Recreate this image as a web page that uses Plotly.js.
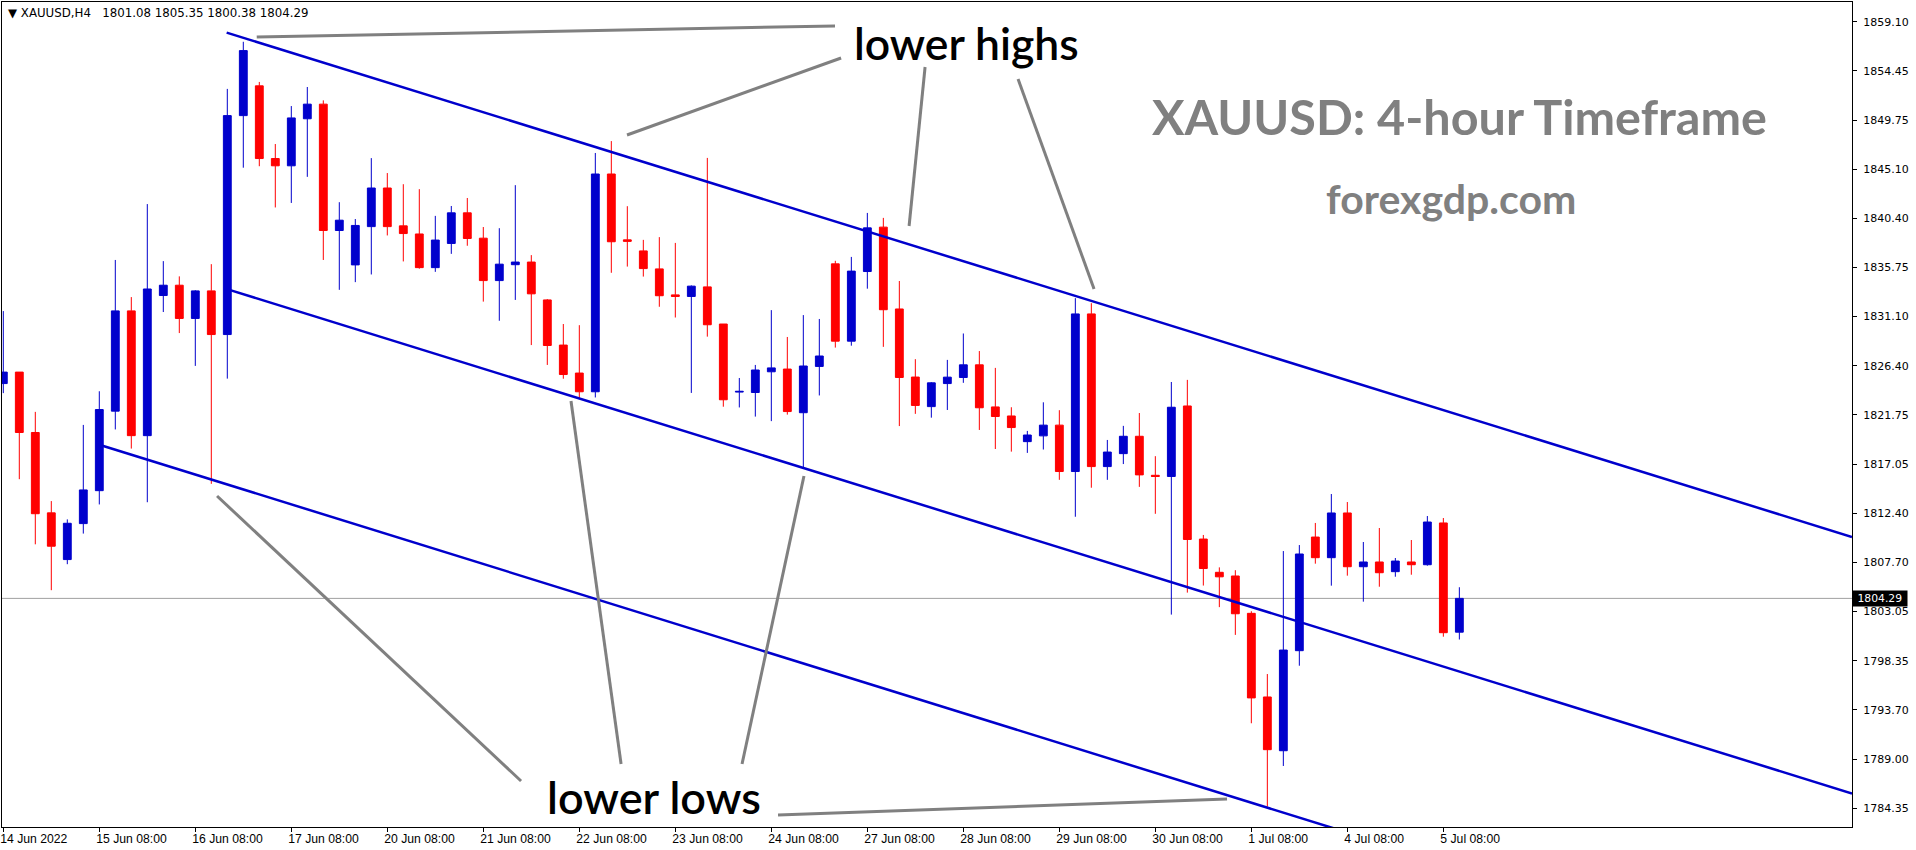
<!DOCTYPE html>
<html>
<head>
<meta charset="utf-8">
<script src="https://cdn.plot.ly/plotly-3.0.1.min.js"></script>
<style>html,body{margin:0;padding:0;background:#fff;}#chart{width:1916px;height:850px;}</style>
</head>
<body>
<div id="chart"></div>
<script>
// ---- Data (XAUUSD H4 candles) ----
const symbol = "XAUUSD,H4";
const openP = [1824.71,1825.80,1820.06,1812.42,1807.98,1811.40,1814.53,1822.09,1831.62,1819.76,
1833.08,1834.06,1830.90,1833.52,1829.37,1850.18,1853.01,1846.10,1845.41,1849.88,
1851.27,1839.26,1835.99,1839.63,1843.30,1839.70,1838.93,1835.73,1838.03,1840.94,
1838.53,1834.50,1836.01,1836.26,1832.66,1828.37,1825.71,1823.93,1844.63,1838.37,
1837.32,1835.61,1833.14,1832.99,1833.90,1830.37,1823.90,1823.86,1825.83,1826.09,
1821.94,1826.34,1836.09,1828.74,1835.36,1839.58,1831.80,1825.33,1822.52,1824.71,
1825.29,1826.49,1822.49,1821.63,1819.19,1819.74,1820.76,1816.35,1831.33,1816.82,
1818.05,1819.70,1815.99,1815.88,1822.58,1809.93,1806.77,1806.42,1802.87,1794.92,
1789.81,1799.32,1810.12,1808.16,1812.41,1807.30,1807.75,1806.83,1807.75,1807.49,
1811.46,1801.08];
const highP = [1831.60,1825.80,1822.02,1813.54,1811.80,1820.78,1823.98,1836.46,1832.93,1841.77,
1836.35,1834.90,1833.59,1836.06,1852.72,1857.20,1853.38,1847.48,1851.09,1852.90,
1851.63,1841.95,1840.35,1846.14,1844.72,1843.66,1843.19,1840.65,1841.59,1842.35,
1839.59,1839.48,1843.57,1836.92,1832.74,1830.37,1830.26,1846.63,1847.76,1841.57,
1838.37,1838.63,1838.08,1834.04,1846.16,1830.37,1825.24,1826.48,1831.69,1829.14,
1831.22,1830.85,1836.38,1836.75,1840.93,1840.46,1834.46,1827.03,1824.85,1826.96,
1829.47,1827.80,1826.20,1822.46,1820.21,1822.93,1822.18,1832.83,1832.35,1819.35,
1820.69,1821.91,1817.81,1824.86,1825.06,1810.32,1807.24,1806.97,1803.07,1797.10,
1808.79,1809.36,1811.46,1814.21,1813.45,1809.65,1810.98,1808.13,1809.84,1812.12,
1811.93,1805.35];
const lowP = [1823.80,1815.62,1809.43,1805.07,1807.54,1810.45,1813.22,1820.35,1818.53,1813.43,
1831.51,1829.51,1826.39,1815.18,1825.18,1845.23,1845.37,1841.45,1841.88,1844.36,
1836.46,1833.62,1834.35,1835.08,1838.79,1836.32,1835.63,1835.33,1837.04,1837.81,
1832.50,1830.68,1832.66,1828.37,1826.48,1825.17,1823.28,1823.39,1835.24,1835.83,
1834.88,1832.01,1830.99,1823.82,1829.17,1822.51,1822.44,1821.57,1821.14,1821.76,
1816.67,1823.58,1828.13,1828.31,1833.73,1828.20,1820.67,1821.83,1821.47,1822.20,
1824.78,1820.30,1818.49,1818.24,1818.12,1818.44,1815.56,1812.05,1814.81,1815.56,
1817.06,1814.89,1812.33,1802.75,1804.84,1805.51,1803.46,1800.82,1792.42,1784.49,
1788.36,1797.89,1807.59,1805.50,1806.45,1803.98,1805.40,1806.35,1806.54,1807.40,
1800.65,1800.38];
const closeP = [1825.80,1820.06,1812.34,1809.25,1811.43,1814.60,1822.24,1831.62,1819.76,1833.70,
1834.06,1830.90,1833.52,1829.37,1850.18,1856.36,1846.10,1845.41,1849.96,1851.27,
1839.26,1840.24,1839.74,1843.30,1839.63,1838.97,1835.73,1838.35,1840.94,1838.50,
1834.50,1836.06,1836.26,1833.24,1828.33,1825.57,1823.93,1844.63,1838.19,1838.23,
1835.64,1833.06,1832.99,1833.97,1830.30,1823.17,1823.97,1826.00,1826.20,1822.05,
1826.38,1827.33,1828.74,1835.40,1839.51,1831.73,1825.29,1822.63,1824.78,1825.32,
1826.49,1822.41,1821.58,1820.53,1819.82,1820.76,1816.35,1831.33,1816.82,1818.20,
1819.70,1816.03,1815.88,1822.46,1809.89,1807.13,1806.34,1802.83,1794.83,1789.91,
1799.38,1808.51,1808.16,1812.41,1807.30,1807.75,1806.73,1807.84,1807.49,1811.55,
1801.03,1804.29];

// time-axis labels (every 6th H4 bar)
const timeTickBars = [0,6,12,18,24,30,36,42,48,54,60,66,72,78,84,90];
const timeTickLabels = ["14 Jun 2022","15 Jun 08:00","16 Jun 08:00","17 Jun 08:00","20 Jun 08:00",
"21 Jun 08:00","22 Jun 08:00","23 Jun 08:00","24 Jun 08:00","27 Jun 08:00","28 Jun 08:00",
"29 Jun 08:00","30 Jun 08:00","1 Jul 08:00","4 Jul 08:00","5 Jul 08:00"];

// price-axis labels
const priceTicks = [1859.10,1854.45,1849.75,1845.10,1840.40,1835.75,1831.10,1826.40,1821.75,
1817.05,1812.40,1807.70,1803.05,1798.35,1793.70,1789.00,1784.35];

// descending channel lines: [bar, price] at start and at the right edge
const upperLineBars = [13.96, 115.54];
const upperLinePrices = [1858.07, 1810.13];
const middleLineBars = [13.98, 115.54];
const middleLinePrices = [1833.69, 1785.75];
const lowerLineBars = [6.0, 115.54];
const lowerLinePrices = [1818.90, 1767.13];

// ---- Build ----
const bars = openP.map((_, i) => i);
const lastIdx = closeP.length - 1;
const lastClose = closeP[lastIdx];
const BLUE = "#0000CC", RED = "#FF0000", GRAY = "#808080";

const candles = {
  type: "candlestick",
  x: bars, open: openP, high: highP, low: lowP, close: closeP,
  increasing: {line: {color: BLUE, width: 1}, fillcolor: BLUE},
  decreasing: {line: {color: RED, width: 1}, fillcolor: RED},
  whiskerwidth: 0,
  hoverinfo: "skip",
  showlegend: false
};
function chLine(xs, ys) {
  return {type: "scatter", mode: "lines", x: xs, y: ys,
    line: {color: BLUE, width: 2.5}, hoverinfo: "skip", showlegend: false};
}
const traces = [
  chLine(upperLineBars, upperLinePrices),
  chLine(middleLineBars, middleLinePrices),
  chLine(lowerLineBars, lowerLinePrices),
  candles
];

function seg(x0, y0, x1, y1) {
  return {type: "line", xref: "x", yref: "y", x0: x0, y0: y0, x1: x1, y1: y1,
    line: {color: GRAY, width: 3}, layer: "above"};
}
const shapes = [
  {type: "line", xref: "paper", x0: 0, x1: 1, yref: "y", y0: lastClose, y1: lastClose,
   line: {color: "#A0A0A0", width: 1}, layer: "below"},
  // "lower highs" pointers
  seg(15.84, 1857.66, 51.98, 1858.70),
  seg(38.98, 1848.34, 52.36, 1855.66),
  seg(57.61, 1854.80, 56.61, 1839.69),
  seg(63.42, 1853.66, 68.17, 1833.70),
  // "lower lows" pointers
  seg(13.36, 1814.02, 32.36, 1786.93),
  seg(35.48, 1823.05, 38.61, 1788.55),
  seg(50.04, 1815.92, 46.17, 1788.55),
  seg(48.42, 1783.70, 76.48, 1785.22)
];

const fmt = v => v.toFixed(2);
const header = "\u25BC " + symbol + "\u00A0\u00A0\u00A0" + [openP[lastIdx], highP[lastIdx], lowP[lastIdx], closeP[lastIdx]].map(fmt).join(" ");

const annotations = [
  {xref: "paper", yref: "paper", x: 0, y: 1, xanchor: "left", yanchor: "top", xshift: 4, yshift: -2,
   text: header, showarrow: false, font: {family: "DejaVu Sans", size: 11.8, color: "#000"}},
  {xref: "paper", yref: "y", x: 1, y: lastClose, xanchor: "left", yanchor: "middle", xshift: 0,
   text: "\u00A0" + fmt(lastClose) + "\u00A0", showarrow: false, bgcolor: "#000", borderpad: 1,
   font: {family: "DejaVu Sans", size: 10.8, color: "#fff"}},
  {xref: "x", yref: "y", x: 60.17, y: 1857.09, text: "lower highs", showarrow: false,
   xanchor: "center", yanchor: "middle", font: {family: "Lato", size: 44.5, weight: 600, color: "#000"}},
  {xref: "x", yref: "y", x: 40.67, y: 1785.41, text: "lower lows", showarrow: false,
   xanchor: "center", yanchor: "middle", font: {family: "Lato", size: 45, weight: 600, color: "#000"}},
  {xref: "x", yref: "y", x: 91.04, y: 1850.15, text: "<b>XAUUSD: 4-hour Timeframe</b>", showarrow: false,
   xanchor: "center", yanchor: "middle", font: {family: "Lato", size: 48.5, color: GRAY}},
  {xref: "x", yref: "y", x: 90.48, y: 1842.26, text: "<b>forexgdp.com</b>", showarrow: false,
   xanchor: "center", yanchor: "middle", font: {family: "Lato", size: 41, color: GRAY}}
];

const layout = {
  width: 1916, height: 850,
  margin: {l: 2, r: 64, t: 2, b: 23},
  paper_bgcolor: "#fff", plot_bgcolor: "#fff",
  showlegend: false,
  dragmode: false,
  xaxis: {
    type: "linear", range: [-0.081, 115.54], autorange: false,
    showgrid: false, zeroline: false,
    showline: true, linecolor: "#000", linewidth: 1, mirror: true,
    ticks: "outside", ticklen: 4, tickcolor: "#000",
    tickvals: timeTickBars, ticktext: timeTickLabels,
    ticklabelposition: "outside right", ticklabelshift: -4,
    tickfont: {family: "Liberation Sans", size: 12.2, color: "#000"},
    rangeslider: {visible: false}, fixedrange: true
  },
  yaxis: {
    side: "right", range: [1782.56, 1860.98], autorange: false,
    showgrid: false, zeroline: false,
    showline: true, linecolor: "#000", linewidth: 1, mirror: true,
    ticks: "outside", ticklen: 4, tickcolor: "#000",
    tickvals: priceTicks, ticktext: priceTicks.map(fmt),
    ticklabelstandoff: 4,
    tickfont: {family: "DejaVu Sans", size: 11, color: "#000"},
    fixedrange: true
  },
  shapes: shapes,
  annotations: annotations
};

Plotly.newPlot("chart", traces, layout, {displayModeBar: false, staticPlot: true});
</script>
</body>
</html>
